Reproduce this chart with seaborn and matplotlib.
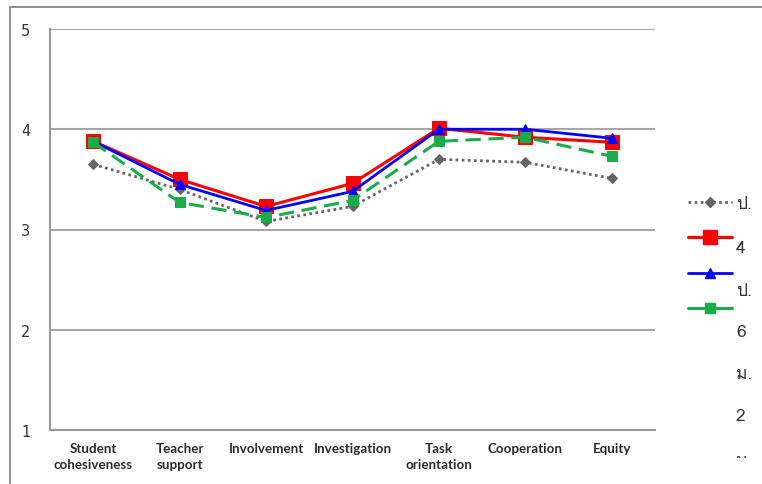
import pandas as pd
import matplotlib
matplotlib.use("Agg")
import matplotlib.pyplot as plt
import matplotlib.font_manager as fm
from matplotlib.ft2font import FT2Font
from matplotlib.lines import Line2D
from matplotlib.patches import Rectangle
import seaborn as sns

# data
categories = ["Student\ncohesiveness", "Teacher\nsupport", "Involvement", "Investigation",
              "Task\norientation", "Cooperation", "Equity"]
series_names = ["ป.4", "ป.6", "ม.2", "ม.4"]
p4 = [3.65, 3.40, 3.08, 3.23, 3.70, 3.67, 3.51]
p6 = [3.88, 3.50, 3.23, 3.46, 4.01, 3.92, 3.87]
m2 = [3.88, 3.45, 3.19, 3.38, 4.00, 4.00, 3.91]
m4 = [3.87, 3.27, 3.12, 3.29, 3.88, 3.92, 3.73]
y_ticks = [1, 2, 3, 4, 5]

rows = []
for name, vals in zip(series_names, [p4, p6, m2, m4]):
    for i, v in enumerate(vals):
        rows.append({"pos": i, "score": v, "group": name})
df = pd.DataFrame(rows)

sns.set_style("white")

# find a font that has Thai glyphs
thai_font = None
for f in fm.fontManager.ttflist:
    try:
        if 0x0E1B in FT2Font(f.fname).get_charmap():
            thai_font = f.name
            break
    except Exception:
        pass
text_family = [thai_font, "DejaVu Sans"] if thai_font else ["DejaVu Sans"]

fig = plt.figure(figsize=(7.62, 4.85), dpi=100)
ax = fig.add_axes([50 / 762, 1 - 431 / 485, 605 / 762, 401 / 485])

palette = {"ป.4": "#666666", "ป.6": "#ff0000", "ม.2": "#0000ff", "ม.4": "#1aab4a"}
markers = {"ป.4": "D", "ป.6": "s", "ม.2": "^", "ม.4": "s"}
dashes = {"ป.4": (1, 1.2), "ป.6": "", "ม.2": "", "ม.4": (5, 2.5)}
sizes = {"ป.4": 5, "ป.6": 10, "ม.2": 7.5, "ม.4": 7.5}
widths = {"ป.4": 2.0, "ป.6": 2.2, "ม.2": 2.0, "ม.4": 2.2}

for name in series_names:
    sub = df[df["group"] == name]
    sns.lineplot(data=sub, x="pos", y="score", ax=ax, color=palette[name],
                 marker=markers[name], markersize=sizes[name], lw=widths[name],
                 markeredgecolor=palette[name], dashes=False, legend=False)
    line = ax.get_lines()[-1]
    if dashes[name]:
        line.set_dashes(dashes[name])

ax.set_xlim(-0.5, 6.5)
ax.set_ylim(1, 5)
ax.set_yticks(y_ticks)
ax.set_xticks(range(len(categories)))
ax.set_xticklabels(categories, fontsize=9.6, fontweight="bold", color="#2a2a2a",
                   family=["Lato", "DejaVu Sans"], linespacing=1.4)
ax.set_xticks([i - 0.5 for i in range(len(categories) + 1)], minor=True)
ax.tick_params(axis="x", which="major", length=0, pad=9)
ax.tick_params(axis="x", which="minor", length=4, color="#999999", width=1.2, direction="out")
ax.tick_params(axis="y", length=4, color="#999999", width=1.2, pad=10, labelsize=10.5,
               labelcolor="#333333")
ax.set_xlabel("")
ax.set_ylabel("")
ax.grid(axis="y", color="#a6a6a6", lw=1.5)
ax.set_axisbelow(True)
for s in ["top", "right"]:
    ax.spines[s].set_visible(False)
for s in ["left", "bottom"]:
    ax.spines[s].set_color("#999999")
    ax.spines[s].set_linewidth(1.5)

# legend: handles only (all solid except the dotted one), text squeezed into a narrow column
handles = []
for name in series_names:
    h = Line2D([], [], color=palette[name], marker=markers[name], markersize=sizes[name],
               markeredgecolor=palette[name], lw=widths[name])
    if name == "ป.4":
        h.set_dashes(dashes[name])
    handles.append(h)
leg = fig.legend(handles=handles, labels=["", "", "", ""], loc="upper left",
                 bbox_to_anchor=(675 / 762, 1 - 184 / 485), frameon=False,
                 handlelength=3.2, labelspacing=1.55, fontsize=10, handletextpad=0)

text_y = [205, 249, 292, 333, 375, 417, 462]
pieces = []
for name in series_names:
    pieces += [name[:2], name[2:]]
clip = Rectangle((0, 1 - 459 / 485), 1, 459 / 485, transform=fig.transFigure)
for t, yy in zip(pieces, text_y):
    txt = fig.text(736 / 762, 1 - yy / 485, t, fontsize=12.5, color="#333333",
                   family=text_family, va="center", ha="left")
    txt.set_clip_path(clip)
    txt.set_clip_on(True)

# outer frame of the original picture
fig.patches.append(Rectangle((10 / 762, -0.1), 1.2, 1 - 8 / 485 + 0.1,
                             transform=fig.transFigure, fill=False,
                             edgecolor="#888888", lw=1.3))

fig.savefig("out.png", dpi=100)
